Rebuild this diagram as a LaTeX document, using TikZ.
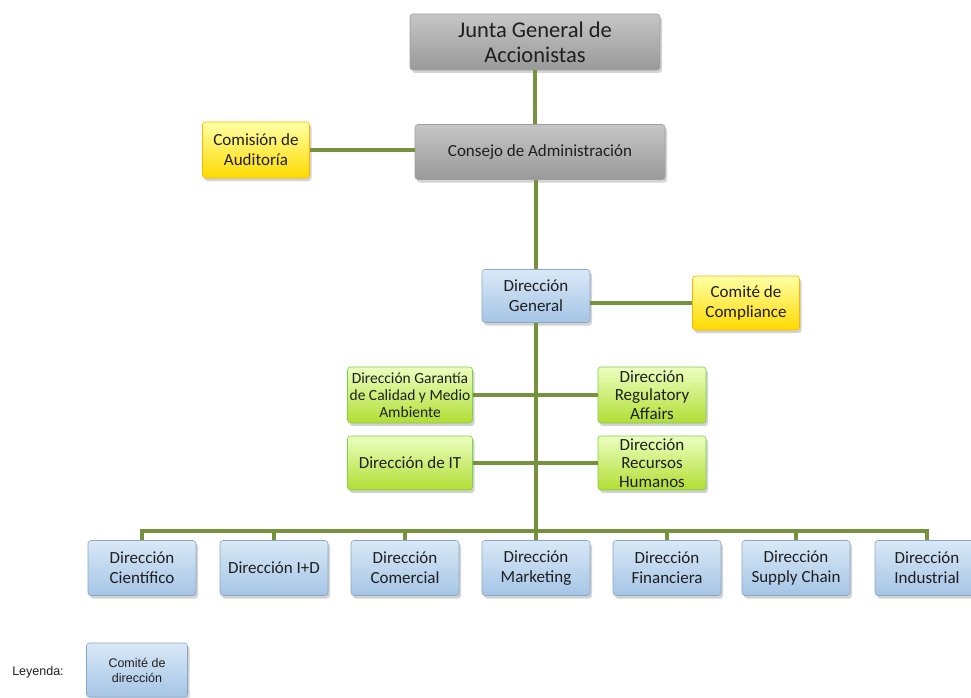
\documentclass[tikz,border=0pt]{standalone}
\usepackage{fontspec}
\setmainfont{Carlito}
\newfontfamily\legfont{Liberation Sans}
\usetikzlibrary{positioning, shadows}
\definecolor{linegreen}{HTML}{76923C}
\definecolor{boxtext}{HTML}{1F1F1F}
\definecolor{bluetop}{HTML}{D9E8F6}
\definecolor{bluebot}{HTML}{A5C5E6}
\definecolor{blueline}{HTML}{8AA6C4}

\begin{document}
\begin{tikzpicture}[x=1pt,y=-1pt]
        \tikzstyle{box}=[rectangle,rounded corners=3pt,line width=0.6pt,minimum width=108pt,minimum height=54pt,inner sep=2pt,align=center,text=boxtext,font=\fontsize{17}{20}\selectfont,drop shadow={opacity=0.35,shadow xshift=2pt,shadow yshift=-3pt}]
        \tikzstyle{greybox}=[box,draw=gray!75,top color=gray!45,bottom color=gray!80]
        \tikzstyle{yellowbox}=[box,draw=orange!60!yellow,top color=yellow!35,bottom color=orange!20!yellow!95!red]
        \tikzstyle{bluebox}=[box,draw=blueline,top color=bluetop,bottom color=bluebot]
        \tikzstyle{greenbox}=[box,draw=green!45!olive!70,top color=green!30!yellow!25,bottom color=green!40!olive!55!yellow!80]
        \tikzstyle{conn}=[draw=linegreen,line width=4pt]
        \useasboundingbox (0,0) rectangle (971,698);
        % top of the chart
        \node[greybox,minimum width=250pt,minimum height=56pt,font=\fontsize{22.5}{25}\selectfont] (junta) at (535,42) {Junta General de\\Accionistas};
        \node[greybox,minimum width=250pt,minimum height=55pt] (consejo) at (540,152) {Consejo de Administración};
        \node[yellowbox,minimum width=107pt,minimum height=56pt] (auditoria) at (256,150) {Comisión de\\Auditoría};
        \node[bluebox,minimum height=53pt] (general) at (536,296) {Dirección\\General};
        \node[yellowbox,minimum width=107pt] (compliance) at (746,303) {Comité de\\Compliance};
        % side directions
        \node[greenbox,minimum width=125pt,minimum height=56pt,font=\fontsize{15.5}{17}\selectfont] (calidad) at (410,395) {Dirección Garantía\\de Calidad y Medio\\Ambiente};
        \node[greenbox,minimum height=56pt,font=\fontsize{17}{18.5}\selectfont] (regulatory) at (652,395) {Dirección\\Regulatory\\Affairs};
        \node[greenbox,minimum width=125pt] (it) at (410,463) {Dirección de IT};
        \node[greenbox,font=\fontsize{17}{18.5}\selectfont] (rrhh) at (652,463) {Dirección\\Recursos\\Humanos};
        % bottom row
        \node[bluebox,minimum height=55pt] (cientifico) at (142,568) {Dirección\\Científico};
        \node[bluebox,minimum height=55pt] (imasd) at (274,568) {Dirección I+D};
        \node[bluebox,minimum height=55pt] (comercial) at (405,568) {Dirección\\Comercial};
        \node[bluebox,minimum height=55pt] (marketing) at (536,568) {Dirección\\Marketing};
        \node[bluebox,minimum height=55pt] (financiera) at (667,568) {Dirección\\Financiera};
        \node[bluebox,minimum height=55pt] (supply) at (796,568) {Dirección\\Supply Chain};
        \node[bluebox,minimum height=55pt,minimum width=104pt] (industrial) at (927,568) {Dirección\\Industrial};
        \coordinate (bus) at (536,531);
        % legend
        \node[bluebox,minimum width=101pt,minimum height=54pt,font=\legfont\fontsize{12.5}{15}\selectfont] (leyenda) at (137,670) {Comité de\\dirección};
        \node[text=boxtext,font=\legfont\fontsize{12.5}{15}\selectfont] (leytxt) at (38,672) {Leyenda:};
        % connectors
        \draw[conn] (junta) -- (junta |- consejo.north);
        \draw[conn] (auditoria.east) -- (auditoria.east -| consejo.west);
        \draw[conn] (consejo.south -| general) -- (general);
        \draw[conn] (compliance.west) -- (compliance.west -| general.east);
        \draw[conn] (general) -- (marketing);
        \draw[conn] (calidad) -- (calidad -| general);
        \draw[conn] (regulatory) -- (regulatory -| general);
        \draw[conn] (it) -- (it -| general);
        \draw[conn] (rrhh) -- (rrhh -| general);
        \draw[conn] (cientifico.north) |- (bus) -| (industrial.north);
        \draw[conn] (imasd.north) -- (imasd.north |- bus);
        \draw[conn] (comercial.north) -- (comercial.north |- bus);
        \draw[conn] (financiera.north) -- (financiera.north |- bus);
        \draw[conn] (supply.north) -- (supply.north |- bus);
    \end{tikzpicture}
\end{document}
